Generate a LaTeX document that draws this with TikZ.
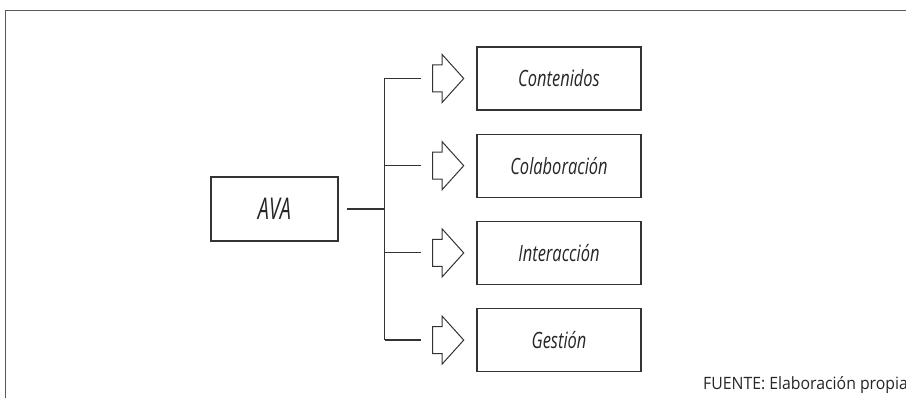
\documentclass[tikz,border=0pt]{standalone}
\usepackage{fontspec}
\setmainfont{Open Sans}
\newfontfamily\hopfont[FakeStretch=0.735]{Open Sans}
\newfontfamily\avafont[FakeStretch=0.66]{Open Sans}
\newfontfamily\nguonfont[FakeStretch=0.93]{Open Sans}
\usetikzlibrary{shapes.arrows,positioning}

\begin{document}
\begin{tikzpicture}[x=1pt, y=-1pt, line join=miter,
	hop/.style={draw=black!80, line width=1.2pt, inner sep=0pt, minimum width=164pt, minimum height=63pt, text=black!85, font=\hopfont\itshape\fontsize{22.4}{22.4}\selectfont},
	muiten/.style={single arrow, draw=black!80, line width=1pt, inner xsep=0pt, inner ysep=13pt, single arrow head extend=10.5pt, single arrow tip angle=96, minimum height=31pt},
	noi/.style={draw=black!80, line width=1.2pt}]
	%Khung.
	\useasboundingbox (0,0) rectangle (906,398);
	\draw[black!65, line width=1.4pt] (5.5,398) -- (5.5,10.5) -- (910,10.5);
	%Các hộp.
	\node[hop, minimum width=127pt, minimum height=64pt, font=\avafont\itshape\fontsize{30}{30}\selectfont] (ava) at (274.5,209) {AVA};
	\node[hop] (k1) at (559,78.5) {Contenidos};
	\node[hop, below=23pt of k1] (k2) {Colaboración};
	\node[hop, below=23pt of k2] (k3) {Interacción};
	\node[hop, below=23pt of k3] (k4) {Gestión};
	%Mũi tên.
	\foreach \i in {1,...,4}
		\node[muiten, left=12pt of k\i] (m\i) {};
	%Nối.
	\coordinate (truc) at (384.5,209);
	\draw[noi, shorten <=8.5pt] (ava.east) -- (truc);
	\draw[noi] (truc|-m1.tail) -- (truc|-m4.tail);
	\foreach \i in {1,...,4}
		\draw[noi, shorten >=11pt] (truc|-m\i.tail) -- (m\i.tail);
	%Nguồn.
	\node[anchor=base west, inner sep=0pt, text=black!85, font=\nguonfont\fontsize{17}{17}\selectfont] (nguon) at (703,390) {FUENTE: Elaboración propia};
\end{tikzpicture}
\end{document}
